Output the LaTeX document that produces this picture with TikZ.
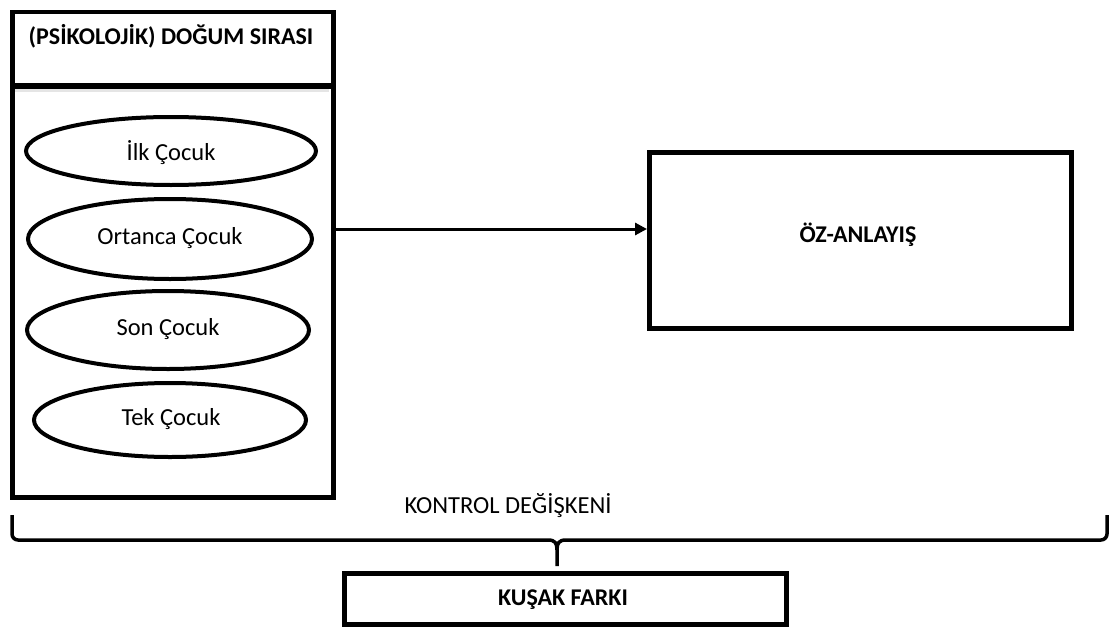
\documentclass[tikz,border=0pt]{standalone}
\usepackage{fontspec}
\setmainfont{Carlito}
\usetikzlibrary{arrows.meta}
\begin{document}
\begin{tikzpicture}[x=1pt,y=-1pt,
  boxline/.style={draw=black,line width=4.5pt},
  ell/.style={draw=black,line width=4pt},
  lbl/.style={font=\fontsize{24.5}{28}\selectfont},
  blbl/.style={font=\bfseries\fontsize{24}{28}\selectfont}]
\useasboundingbox (0,0) rectangle (1115,626);
% left group
\node[boxline,minimum width=321pt,minimum height=73pt,anchor=north west,inner sep=0pt] (head) at (10,10) {};
\node[blbl,anchor=center] (headtxt) at (171,36) {(PSİKOLOJİK) DOĞUM SIRASI};
\fill[black!25] (12,85) rectangle (329,89);
\fill[black!10] (12,89) rectangle (329,92);
\node[boxline,minimum width=321pt,minimum height=411pt,anchor=north west,inner sep=0pt] (group) at (10,84) {};
% ellipses
\draw[ell] (171,151) ellipse [x radius=145,y radius=34];
\draw[ell] (170,239) ellipse [x radius=142,y radius=40];
\draw[ell] (168,330) ellipse [x radius=141,y radius=39];
\draw[ell] (170,420) ellipse [x radius=136,y radius=37];
\node[lbl] (e1) at (171,153) {İlk Çocuk};
\node[lbl] (e2) at (170,238) {Ortanca Çocuk};
\node[lbl] (e3) at (168,329) {Son Çocuk};
\node[lbl] (e4) at (171,419) {Tek Çocuk};
% outcome
\node[boxline,minimum width=422pt,minimum height=176pt,anchor=north west,inner sep=0pt] (oz) at (647,150) {};
\node[blbl] (oztxt) at (858,235) {ÖZ-ANLAYIŞ};
\draw[line width=3pt,-{Triangle[length=12pt,width=12pt]}] (group.east |- 0,229) -- (oz.west |- 0,229);
% control
\node[lbl] (ctrl) at (508,506) {KONTROL DEĞİŞKENİ};
\coordinate (bl) at (12,515);
\coordinate (br) at (1107,515);
\coordinate (bm) at (557,566);
\draw[line width=3.5pt,line join=round]
  (bl) -- (12,534) arc[start angle=180,end angle=90,radius=6] -- (548,540)
  .. controls (555,540) and (557,543) .. (557,550) -- (bm);
\draw[line width=3.5pt,line join=round]
  (br) -- (1107,534) arc[start angle=0,end angle=90,radius=6] -- (566,540)
  .. controls (559,540) and (557,543) .. (557,550);
\node[boxline,minimum width=442pt,minimum height=51pt,anchor=north west,inner sep=0pt] (kf) at (342,571) {};
\node[blbl] (kftxt) at (563,600) {KUŞAK FARKI};
\end{tikzpicture}
\end{document}
